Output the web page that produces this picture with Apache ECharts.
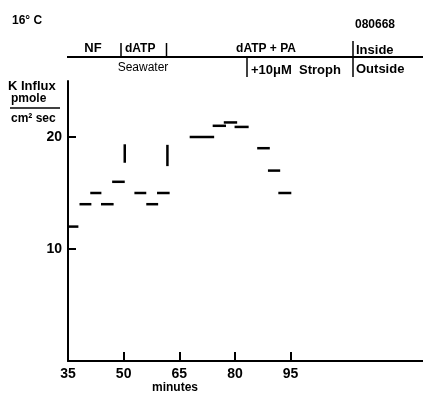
<!DOCTYPE html>
<html><head><meta charset="utf-8">
<script src="https://cdn.jsdelivr.net/npm/echarts@6/dist/echarts.min.js"></script>
<style>html,body{margin:0;padding:0;background:#fff}#c{width:423px;height:394px}</style>
</head><body><div id="c"></div>
<script>
// Horizontal measurement segments: start minute, end minute, K influx value
const segStart = [35, 38.1, 41.0, 43.9, 46.9, 52.9, 56.1, 59.0, 67.8, 74.0, 77.0, 79.9, 86.0, 88.9, 91.7];
const segEnd   = [37.8, 41.3, 44.0, 47.3, 50.3, 56.1, 59.3, 62.4, 74.4, 77.6, 80.6, 83.7, 89.4, 92.2, 95.2];
const segValue = [12, 14, 15, 14, 16, 15, 14, 15, 20, 21, 21.3, 20.9, 19, 17, 15];
// Vertical marks (solution changes)
const markX   = [50.3, 61.8];
const markLow = [17.7, 17.4];
const markHigh= [19.35, 19.3];
// Axis ticks
const xTickLabels = [35, 50, 65, 80, 95];
const xTicks = [50, 65, 80, 95];
const yTickLabels = [10, 20];

const FONT = 'Liberation Sans';
const chart = echarts.init(document.getElementById('c'), null, {renderer: 'canvas'});

const hData = segStart.map((s, i) => [s, segValue[i], segEnd[i]]);
const vData = markX.map((x, i) => [x, markLow[i], markHigh[i]]);

const txt = (x, y, t, size, weight, align) => ({
  type: 'text', x: x, y: y,
  style: {text: t, font: (weight || 'bold') + ' ' + size + 'px "' + FONT + '"', fill: '#000', textAlign: align || 'left', textVerticalAlign: 'middle'}
});
const ln = (x1, y1, x2, y2, w) => ({
  type: 'line', shape: {x1, y1, x2, y2}, style: {stroke: '#000', lineWidth: w || 1.5}
});

chart.setOption({
  animation: false,
  backgroundColor: '#fff',
  grid: {left: 68, top: 81, width: 355, height: 280},
  xAxis: {
    type: 'value', min: 35, max: 130.7,
    axisLine: {show: true, lineStyle: {color: '#000', width: 2}},
    axisTick: {show: true, inside: true, length: 9, customValues: xTicks, lineStyle: {color: '#000', width: 2}},
    axisLabel: {customValues: xTickLabels, color: '#000', fontFamily: FONT, fontWeight: 'bold', fontSize: 14, margin: 6},
    splitLine: {show: false}
  },
  yAxis: {
    type: 'value', min: 0, max: 25,
    axisLine: {show: true, lineStyle: {color: '#000', width: 2}},
    axisTick: {show: true, inside: true, length: 8, customValues: yTickLabels, lineStyle: {color: '#000', width: 2}},
    axisLabel: {customValues: yTickLabels, color: '#000', fontFamily: FONT, fontWeight: 'bold', fontSize: 14, margin: 6},
    splitLine: {show: false}
  },
  series: [
    {
      type: 'custom', data: hData, encode: {x: [0, 2], y: 1},
      renderItem: (params, api) => {
        const a = api.coord([api.value(0), api.value(1)]);
        const b = api.coord([api.value(2), api.value(1)]);
        return {type: 'line', shape: {x1: a[0], y1: a[1], x2: b[0], y2: b[1]}, style: {stroke: '#000', lineWidth: 2.5}};
      }
    },
    {
      type: 'custom', data: vData, encode: {x: 0, y: [1, 2]},
      renderItem: (params, api) => {
        const a = api.coord([api.value(0), api.value(1)]);
        const b = api.coord([api.value(0), api.value(2)]);
        return {type: 'line', shape: {x1: a[0], y1: a[1], x2: b[0], y2: b[1]}, style: {stroke: '#000', lineWidth: 2.5}};
      }
    }
  ],
  graphic: [
    txt(12, 21, '16° C', 12),
    txt(355, 25, '080668', 12),
    ln(67, 57, 423, 57, 2),
    txt(93, 48, 'NF', 13, 'bold', 'center'),
    ln(121, 43, 121, 57), txt(125, 49, 'dATP', 12),
    ln(166.5, 43, 166.5, 57),
    txt(266, 49, 'dATP + PA', 12, 'bold', 'center'),
    ln(353, 41, 353, 77), txt(356, 50, 'Inside', 13),
    txt(143, 68, 'Seawater', 12, 'normal', 'center'),
    ln(247, 57, 247, 77), txt(251, 70, '+10\u03bcM  Stroph', 13),
    txt(356, 69, 'Outside', 13),
    txt(8, 86, 'K Influx', 13),
    txt(11, 99, 'pmole', 12),
    ln(10, 108, 60, 108, 1.5),
    txt(11, 119, 'cm\u00b2 sec', 12),
    txt(175, 388, 'minutes', 12, 'bold', 'center')
  ]
});
</script></body></html>
